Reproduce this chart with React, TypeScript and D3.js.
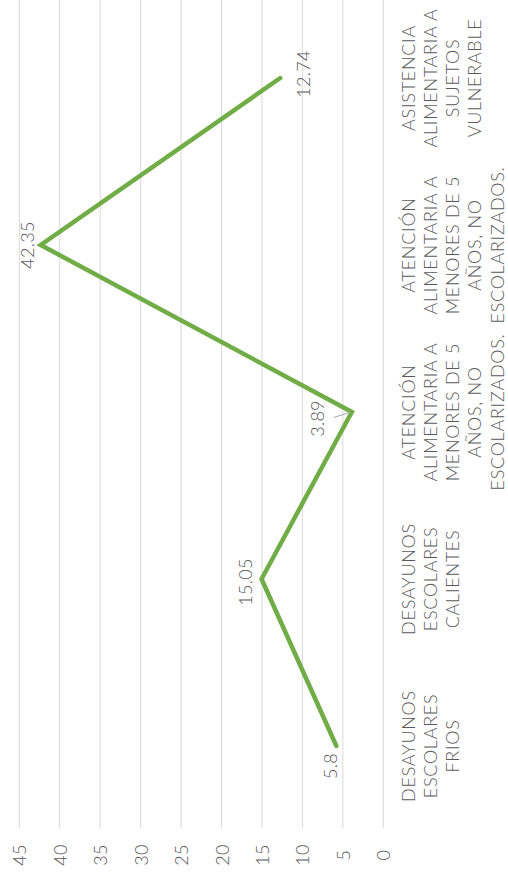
import React from "react";
import * as d3 from "d3";

const categories: string[][] = [
  ["DESAYUNOS", "ESCOLARES", "FRIOS"],
  ["DESAYUNOS", "ESCOLARES", "CALIENTES"],
  ["ATENCIÓN", "ALIMENTARIA A", "MENORES DE 5", "AÑOS, NO", "ESCOLARIZADOS."],
  ["ATENCIÓN", "ALIMENTARIA A", "MENORES DE 5", "AÑOS, NO", "ESCOLARIZADOS."],
  ["ASISTENCIA", "ALIMENTARIA A", "SUJETOS", "VULNERABLE"],
];
const values = [5.8, 15.05, 3.89, 42.35, 12.74];
const valueTicks = [0, 5, 10, 15, 20, 25, 30, 35, 40, 45];

// label nudges (screen px) relative to the point, as placed in the source chart
const labelNudge: [number, number][] = [
  [-6.7, 20],
  [-16.7, 3],
  [-34.5, 6.5],
  [-13.5, 0],
  [22.3, -4],
];

const W = 508;
const H = 875;
const FONT = "Lato, 'Open Sans', sans-serif";
const TEXT = "#595959";
const GRID = "#d9d9d9";
const GREEN = "#70ad47";

export default function App() {
  // the chart is rotated: values run right-to-left, categories bottom-to-top
  const x = d3.scaleLinear().domain([0, 45]).range([383.3, 19.3]);
  const y = d3
    .scaleBand<number>()
    .domain(d3.range(categories.length))
    .range([829.5, -5.5]);
  const cy = (i: number) => (y(i) as number) + y.bandwidth() / 2;

  const line = d3
    .line<number>()
    .x((d) => x(d))
    .y((_, i) => cy(i));

  const lineGap = 22.3;

  return (
    <div style={{ position: "absolute", left: 0, top: 0 }}>
      <svg width={W} height={H} style={{ display: "block", background: "#fff" }}>
        {valueTicks.map((t) => (
          <line
            key={`g${t}`}
            x1={x(t)}
            x2={x(t)}
            y1={0}
            y2={828}
            stroke={GRID}
            strokeWidth={1}
          />
        ))}
        {valueTicks.map((t) => (
          <text
            key={`t${t}`}
            transform={`translate(${x(t)},855) rotate(-90)`}
            textAnchor="middle"
            dominantBaseline="central"
            fontFamily={FONT}
            fontWeight={300}
            fontSize={18}
            letterSpacing={0.4}
            fill={TEXT}
          >
            {t}
          </text>
        ))}

        {categories.map((lines, i) => (
          <g key={`c${i}`}>
            {lines.map((ln, j) => (
              <text
                key={j}
                transform={`translate(${407.5 + j * lineGap},${cy(i)}) rotate(-90)`}
                textAnchor="middle"
                dominantBaseline="central"
                fontFamily={FONT}
                fontWeight={300}
                fontSize={18}
                letterSpacing={0.7}
                fill={TEXT}
              >
                {ln}
              </text>
            ))}
          </g>
        ))}

        <path
          d={line(values) || ""}
          fill="none"
          stroke={GREEN}
          strokeWidth={4.5}
          strokeLinecap="round"
          strokeLinejoin="miter"
        />

        {/* leader line for the moved label */}
        <line
          x1={x(values[2]) - 18}
          y1={cy(2) + 5.5}
          x2={x(values[2]) - 1}
          y2={cy(2)}
          stroke="#a6a6a6"
          strokeWidth={1}
        />

        {values.map((v, i) => (
          <text
            key={`l${i}`}
            transform={`translate(${x(v) + labelNudge[i][0]},${cy(i) + labelNudge[i][1]}) rotate(-90)`}
            textAnchor="middle"
            dominantBaseline="central"
            fontFamily={FONT}
            fontWeight={300}
            fontSize={18}
            letterSpacing={0.3}
            fill={TEXT}
          >
            {v}
          </text>
        ))}
      </svg>
    </div>
  );
}
